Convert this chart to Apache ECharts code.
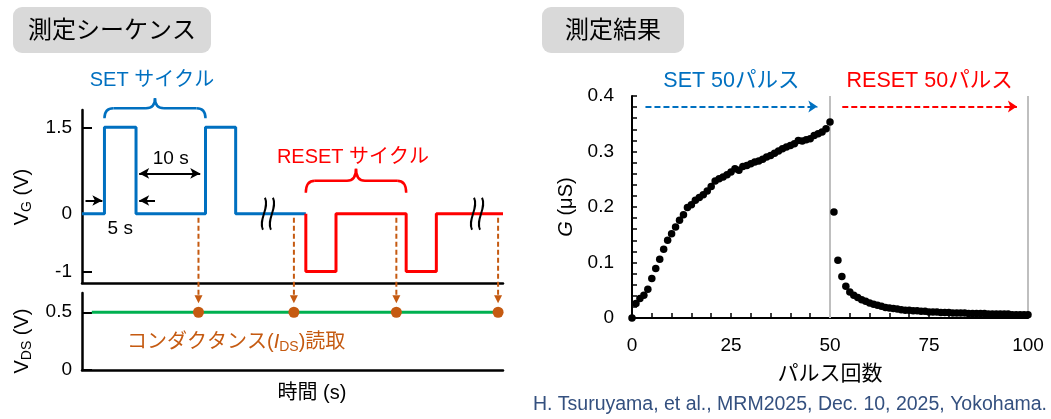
<!DOCTYPE html>
<html>
<head>
<meta charset="utf-8">
<script src="https://cdn.jsdelivr.net/npm/echarts@6/dist/echarts.min.js"></script>
<style>
html, body { margin: 0; padding: 0; background: #fff; }
#chart { width: 1051px; height: 419px; }
</style>
</head>
<body>
<div id="chart"></div>
<script>
// ---- Measurement sequence (left) ----
// Gate voltage steps: time (s) of each edge and the level after it (V)
const setEdgeTimes   = [0, 3.2, 7.7, 17.6, 21.9, 31.9];
const setLevels      = [0, 1.5, 0, 1.5, 0, 0];
const resetEdgeTimes = [31.9, 31.9, 36.2, 46.2, 50.5, 60];
const resetLevels    = [0, -1, 0, -1, 0, 0];
// Drain voltage applied while reading the conductance
const vdsTimes  = [1.4, 60];
const vdsLevels = [0.5, 0.5];
const readTimes = [16.6, 30.2, 44.8, 59.3];
const readVoltage = 0.5;
// Axis break positions (s)
const breakTimes = [26.5, 56.3];
// Tick labels
const vgTicks  = [1.5, 0, -1];
const vdsTicks = [0.5, 0];

// ---- Measurement result (right) ----
// Conductance G (μS) after each SET pulse 0..50
const gSet = [0.000, 0.026, 0.035, 0.041, 0.052, 0.071, 0.089, 0.106, 0.124, 0.140,
              0.152, 0.164, 0.176, 0.186, 0.199, 0.204, 0.212, 0.217, 0.222, 0.229,
              0.237, 0.247, 0.251, 0.254, 0.258, 0.263, 0.269, 0.266, 0.273, 0.275,
              0.278, 0.281, 0.283, 0.286, 0.290, 0.293, 0.297, 0.301, 0.305, 0.308,
              0.311, 0.314, 0.320, 0.319, 0.321, 0.323, 0.329, 0.332, 0.335, 0.341,
              0.353];
// Conductance G (μS) after each RESET pulse 51..100
const gReset = [0.191, 0.104, 0.075, 0.057, 0.047, 0.041, 0.037, 0.033, 0.030, 0.027,
                0.025, 0.023, 0.021, 0.019, 0.018, 0.017, 0.016, 0.015, 0.014, 0.014,
                0.013, 0.013, 0.012, 0.012, 0.011, 0.011, 0.011, 0.010, 0.010, 0.010,
                0.009, 0.009, 0.009, 0.009, 0.008, 0.008, 0.008, 0.008, 0.008, 0.007,
                0.007, 0.007, 0.007, 0.007, 0.007, 0.006, 0.006, 0.006, 0.006, 0.006];
const pulseTicks = [0, 25, 50, 75, 100];
const gTicks = [0, 0.1, 0.2, 0.3, 0.4];

const FONT = '"Liberation Sans", Arial, "Noto Sans CJK JP", sans-serif';
const BLUE = '#0070c0', RED = '#ff0000', ORANGE = '#c55a11', GREEN = '#00b050', GRAY = '#bfbfbf';

const zip = (xs, ys) => xs.map((x, i) => [x, ys[i]]);
const setPoints = gSet.map((g, i) => [i, g]);
const resetPoints = gReset.map((g, i) => [gSet.length + i, g]);

const leftX = {
  type: 'value', min: 0, max: 60,
  axisLine: { onZero: false, lineStyle: { color: '#000', width: 2.5 } },
  axisTick: { show: false }, axisLabel: { show: false }, splitLine: { show: false }
};
const leftY = (min, max, ticks) => ({
  type: 'value', min: min, max: max,
  axisLine: { show: true, onZero: false, lineStyle: { color: '#000', width: 2.5 } },
  axisTick: { show: true, inside: true, length: 10, customValues: ticks, lineStyle: { color: '#000', width: 2 } },
  axisLabel: { customValues: ticks, fontSize: 19, color: '#000', margin: 10, fontFamily: FONT },
  splitLine: { show: false }
});

const t0 = setEdgeTimes;
const option = {
  animation: false,
  textStyle: { fontFamily: FONT },
  grid: [
    { left: 82, top: 110, width: 421, height: 173 },
    { left: 82, top: 293, width: 421, height: 77 },
    { left: 632, top: 96, width: 396, height: 222 }
  ],
  xAxis: [
    Object.assign({ gridIndex: 0 }, leftX),
    Object.assign({ gridIndex: 1 }, leftX),
    {
      gridIndex: 2, type: 'value', min: 0, max: 100, interval: 25,
      axisLine: { onZero: false, lineStyle: { color: '#000', width: 2 } },
      axisTick: { inside: true, length: 5, lineStyle: { color: '#000', width: 1.5 } },
      minorTick: { show: true, splitNumber: 5, length: 5, lineStyle: { color: '#000', width: 1.5 } },
      axisLabel: { fontSize: 19, color: '#000', margin: 18 },
      splitLine: { show: false },
      name: 'パルス回数', nameLocation: 'middle', nameGap: 46,
      nameTextStyle: { fontSize: 21, color: '#000' }
    }
  ],
  yAxis: [
    Object.assign({ gridIndex: 0 }, leftY(-1.2, 1.8, vgTicks)),
    Object.assign({ gridIndex: 1 }, leftY(0, 2 / 3, vdsTicks)),
    {
      gridIndex: 2, type: 'value', min: 0, max: 0.4, interval: 0.1,
      axisLine: { show: true, onZero: false, lineStyle: { color: '#000', width: 2 } },
      axisTick: { show: true, inside: true, length: 5, lineStyle: { color: '#000', width: 1.5 } },
      minorTick: { show: true, splitNumber: 5, length: 5, lineStyle: { color: '#000', width: 1.5 } },
      axisLabel: { fontSize: 19, color: '#000', margin: 18, formatter: v => (v === 0 ? '0' : v.toFixed(1)) },
      splitLine: { show: false },
      name: '{i|G} (μS)', nameLocation: 'middle', nameGap: 56,
      nameTextStyle: { fontSize: 20, color: '#000', rich: { i: { fontSize: 20, fontStyle: 'italic', color: '#000' } } }
    }
  ],
  series: [
    {
      name: 'SET', type: 'line', xAxisIndex: 0, yAxisIndex: 0, step: 'end',
      data: zip(setEdgeTimes, setLevels), symbol: 'none',
      lineStyle: { color: BLUE, width: 3 },
      markLine: {
        silent: true, symbol: ['arrow', 'arrow'], symbolSize: [8, 10],
        label: { show: false },
        lineStyle: { color: '#000', width: 2, type: 'solid' },
        data: [
          [{ coord: [t0[2] + 0.45, 0.70] }, { coord: [t0[3] - 0.75, 0.70] }],
          [{ coord: [t0[1] - 2.7, 0.23], symbol: 'none' }, { coord: [t0[1] - 0.3, 0.23] }],
          [{ coord: [t0[2] + 2.7, 0.23], symbol: 'none' }, { coord: [t0[2] + 0.45, 0.23] }]
        ]
      }
    },
    {
      name: 'RESET', type: 'line', xAxisIndex: 0, yAxisIndex: 0, step: 'end',
      data: zip(resetEdgeTimes, resetLevels), symbol: 'none',
      lineStyle: { color: RED, width: 3 }
    },
    {
      name: 'VDS', type: 'line', xAxisIndex: 1, yAxisIndex: 1,
      data: zip(vdsTimes, vdsLevels), symbol: 'none',
      lineStyle: { color: GREEN, width: 3 }
    },
    {
      name: 'read', type: 'scatter', xAxisIndex: 1, yAxisIndex: 1,
      data: readTimes.map(t => [t, readVoltage]), symbolSize: 11,
      itemStyle: { color: ORANGE, opacity: 1 }, z: 5
    },
    {
      name: 'G SET', type: 'scatter', xAxisIndex: 2, yAxisIndex: 2,
      data: setPoints, symbolSize: 7.5, itemStyle: { color: '#000', opacity: 1 }, z: 5,
      markLine: {
        silent: true, symbol: ['none', 'none'], label: { show: false },
        data: [
          { xAxis: 50, lineStyle: { color: GRAY, width: 2, type: 'solid' } },
          { xAxis: 100, lineStyle: { color: GRAY, width: 2, type: 'solid' } },
          [{ coord: [3.4, 0.381], symbol: 'none' },
           { coord: [46.8, 0.381], symbol: 'arrow', symbolSize: 9,
             lineStyle: { color: BLUE, width: 2, type: [6, 3] } }]
        ]
      }
    },
    {
      name: 'G RESET', type: 'scatter', xAxisIndex: 2, yAxisIndex: 2,
      data: resetPoints, symbolSize: 7.5, itemStyle: { color: '#000', opacity: 1 }, z: 5,
      markLine: {
        silent: true, symbol: ['none', 'arrow'], symbolSize: 9, label: { show: false },
        lineStyle: { color: RED, width: 2, type: [6, 3] },
        data: [[{ coord: [53.1, 0.381] }, { coord: [97.2, 0.381] }]]
      }
    }
  ]
};

const chart = echarts.init(document.getElementById('chart'));
chart.setOption(option);

// ---- Annotations placed from the axes' own scales ----
const P0 = p => chart.convertToPixel({ gridIndex: 0 }, p);
const P1 = p => chart.convertToPixel({ gridIndex: 1 }, p);
const P2 = p => chart.convertToPixel({ gridIndex: 2 }, p);

const g = [];
const text = (x, y, str, size, color, extra) => g.push(Object.assign({
  type: 'text', x: x, y: y, z: 100,
  style: Object.assign({ text: str, fontSize: size, fontFamily: FONT, fill: color, align: 'center', verticalAlign: 'middle' }, extra || {})
}));
const seg = (x1, y1, x2, y2, color, w, dash) => g.push({
  type: 'line', z: 100, shape: { x1, y1, x2, y2 },
  style: { stroke: color, lineWidth: w, lineDash: dash || null }
});
const curve = (x1, y1, cpx1, cpy1, x2, y2, color, w, cpx2, cpy2) => {
  const shape = { x1, y1, x2, y2, cpx1, cpy1 };
  if (cpx2 !== undefined) { shape.cpx2 = cpx2; shape.cpy2 = cpy2; }
  g.push({ type: 'bezierCurve', z: 100, shape, style: { stroke: color, lineWidth: w, fill: null } });
};
// curly brace opening downward
const brace = (xL, xR, yEnd, yMid, yTip, color) => {
  const r = 9, xc = (xL + xR) / 2;
  curve(xL, yEnd, xL, yMid, xL + r, yMid, color, 2.5);
  seg(xL + r, yMid, xc - r, yMid, color, 2.5);
  curve(xc - r, yMid, xc, yMid, xc, yTip, color, 2.5);
  curve(xc, yTip, xc, yMid, xc + r, yMid, color, 2.5);
  seg(xc + r, yMid, xR - r, yMid, color, 2.5);
  curve(xR - r, yMid, xR, yMid, xR, yEnd, color, 2.5);
};

// title boxes
g.push({ type: 'rect', z: 90, shape: { x: 13, y: 7, width: 198, height: 46, r: 9 }, style: { fill: '#d9d9d9' } });
text(112, 31, '測定シーケンス', 24, '#000');
g.push({ type: 'rect', z: 90, shape: { x: 542, y: 7, width: 142, height: 46, r: 9 }, style: { fill: '#d9d9d9' } });
text(613, 31, '測定結果', 24, '#000');

// SET cycle brace and label
const sL = P0([setEdgeTimes[1], 1.5]), sR = P0([setEdgeTimes[3], 1.5]);
brace(sL[0], sR[0], sL[1] - 9, sL[1] - 19, sL[1] - 29, BLUE);
text((sL[0] + sR[0]) / 2 - 3, sL[1] - 47, 'SET サイクル', 20, BLUE);
// RESET cycle brace and label
const rL = P0([resetEdgeTimes[1], 0]), rR = P0([resetEdgeTimes[3], 0]);
brace(rL[0], rR[0], rL[1] - 21, rL[1] - 33, rL[1] - 45, RED);
text((rL[0] + rR[0]) / 2 - 3, rL[1] - 56, 'RESET サイクル', 20, RED);

// interval labels
const gapA = P0([setEdgeTimes[2], 0.70]), gapB = P0([setEdgeTimes[3], 0.70]);
text((gapA[0] + gapB[0]) / 2, gapA[1] - 15, '10 s', 19, '#000');
const pA = P0([setEdgeTimes[1], 0]), pB = P0([setEdgeTimes[2], 0]);
text((pA[0] + pB[0]) / 2, pA[1] + 15, '5 s', 19, '#000');

// axis breaks
breakTimes.forEach(t => {
  const c = P0([t, 0]);
  [-4, 4].forEach(dx => {
    const x = c[0] + dx;
    curve(x + 1, c[1] - 16, x + 6, c[1] - 6, x - 1, c[1] + 16, '#000', 2, x - 6, c[1] + 6);
  });
});

// conductance readout arrows
readTimes.forEach(t => {
  const top = P0([t, 0]);
  const dot = P1([t, readVoltage]);
  seg(top[0], top[1] + 4, top[0], dot[1] - 16, ORANGE, 2, [5, 3]);
  g.push({ type: 'polygon', z: 100,
    shape: { points: [[dot[0] - 4, dot[1] - 17], [dot[0] + 4, dot[1] - 17], [dot[0], dot[1] - 9]] },
    style: { fill: ORANGE } });
});
text(127, 342, '{a|コンダクタンス(}{i|I}{s|DS}{a|)読取}', 20, ORANGE, {
  align: 'left',
  rich: {
    a: { fontSize: 20, fill: ORANGE, fontFamily: FONT, lineHeight: 24 },
    i: { fontSize: 20, fill: ORANGE, fontFamily: FONT, fontStyle: 'italic', lineHeight: 24 },
    s: { fontSize: 14, fill: ORANGE, fontFamily: FONT, lineHeight: 14, verticalAlign: 'bottom' }
  }
});
text(312, 393, '時間 (s)', 20, '#000');

// left axis names
const subRich = {
  m: { fontSize: 20, fill: '#000', fontFamily: FONT, lineHeight: 24 },
  s: { fontSize: 14, fill: '#000', fontFamily: FONT, lineHeight: 14, verticalAlign: 'bottom' }
};
g.push({ type: 'text', x: 22, y: 197, rotation: Math.PI / 2, z: 100,
  style: { text: '{m|V}{s|G}{m| (V)}', rich: subRich, align: 'center', verticalAlign: 'middle' } });
g.push({ type: 'text', x: 22, y: 341, rotation: Math.PI / 2, z: 100,
  style: { text: '{m|V}{s|DS}{m| (V)}', rich: subRich, align: 'center', verticalAlign: 'middle' } });

// right panel headings
const bA = P2([3.4, 0.381]), bB = P2([46.8, 0.381]);
text((bA[0] + bB[0]) / 2, bA[1] - 25, 'SET 50パルス', 21.5, BLUE);
const rA = P2([53.1, 0.381]), rB = P2([97.2, 0.381]);
text((rA[0] + rB[0]) / 2, rA[1] - 25, 'RESET 50パルス', 21.5, RED);

// reference
text(1047, 405, 'H. Tsuruyama, et al., MRM2025, Dec. 10, 2025, Yokohama.', 19.5, '#34507f', { align: 'right' });

chart.setOption({ graphic: g });
</script>
</body>
</html>
